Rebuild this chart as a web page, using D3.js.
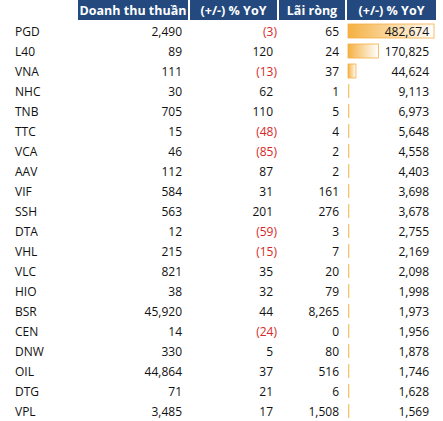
<!DOCTYPE html><html><head><meta charset="utf-8"><script src="https://cdn.jsdelivr.net/npm/d3@7"></script>
<style>body{margin:0;background:#fff}</style></head><body><svg id="c" width="443" height="421"></svg><script>
const headers=["Doanh thu thuần","(+/-) % YoY","Lãi ròng","(+/-) % YoY"];
const tickers=["PGD","L40","VNA","NHC","TNB","TTC","VCA","AAV","VIF","SSH","DTA","VHL","VLC","HIO","BSR","CEN","DNW","OIL","DTG","VPL"];
const revenue=[2490,89,111,30,705,15,46,112,584,563,12,215,821,38,45920,14,330,44864,71,3485];
const revYoY=[-3,120,-13,62,110,-48,-85,87,31,201,-59,-15,35,32,44,-24,5,37,21,17];
const profit=[65,24,37,1,5,4,2,2,161,276,3,7,20,79,8265,0,80,516,6,1508];
const profitYoY=[482674,170825,44624,9113,6973,5648,4558,4403,3698,3678,2755,2169,2098,1998,1973,1956,1878,1746,1628,1569];
const svg=d3.select("#c");
const font="'Open Sans', 'Liberation Sans', sans-serif";
const hdr=[[78,188],[190,277],[279,345],[347,436]];
const defs=svg.append("defs");
const g=defs.append("linearGradient").attr("id","gr");
g.append("stop").attr("offset","0%").attr("stop-color","#F5B041");
g.append("stop").attr("offset","100%").attr("stop-color","#FFFFFF");
hdr.forEach((h,i)=>{svg.append("rect").attr("x",h[0]).attr("y",0).attr("width",h[1]-h[0]).attr("height",20).attr("fill","#23497E");
svg.append("text").attr("x",(h[0]+h[1])/2).attr("y",14.5).attr("text-anchor","middle").attr("fill","#fff").attr("font-weight","bold").attr("font-family",font).attr("font-size",12.5).text(headers[i]);});
const y=d3.scaleBand().domain(tickers).range([21,421]);
const x=d3.scaleLinear().domain([0,d3.max(profitYoY)]).range([0,86]);
const fmt=d3.format(",");
const paren=v=>v<0?"("+fmt(-v)+")":fmt(v);
tickers.forEach((t,i)=>{const cy=y(t)+y.bandwidth()/2;
const w=Math.max(2,x(profitYoY[i]));
svg.append("rect").attr("x",348).attr("y",cy-7).attr("width",w).attr("height",14).attr("fill","url(#gr)").attr("stroke",w>4?"#F5B041":"none").attr("stroke-width",0.8);
const txt=(xx,s,anchor,col)=>svg.append("text").attr("x",xx).attr("y",cy+4.5).attr("text-anchor",anchor).attr("font-family",font).attr("font-size",12).attr("fill",col||"#111").text(s);
txt(15,t,"start");
txt(182,fmt(revenue[i]),"end");
txt(revYoY[i]<0?277:273,paren(revYoY[i]),"end",revYoY[i]<0?"#D62728":"#111");
txt(339,fmt(profit[i]),"end");
txt(429,fmt(profitYoY[i]),"end");});
</script></body></html>
